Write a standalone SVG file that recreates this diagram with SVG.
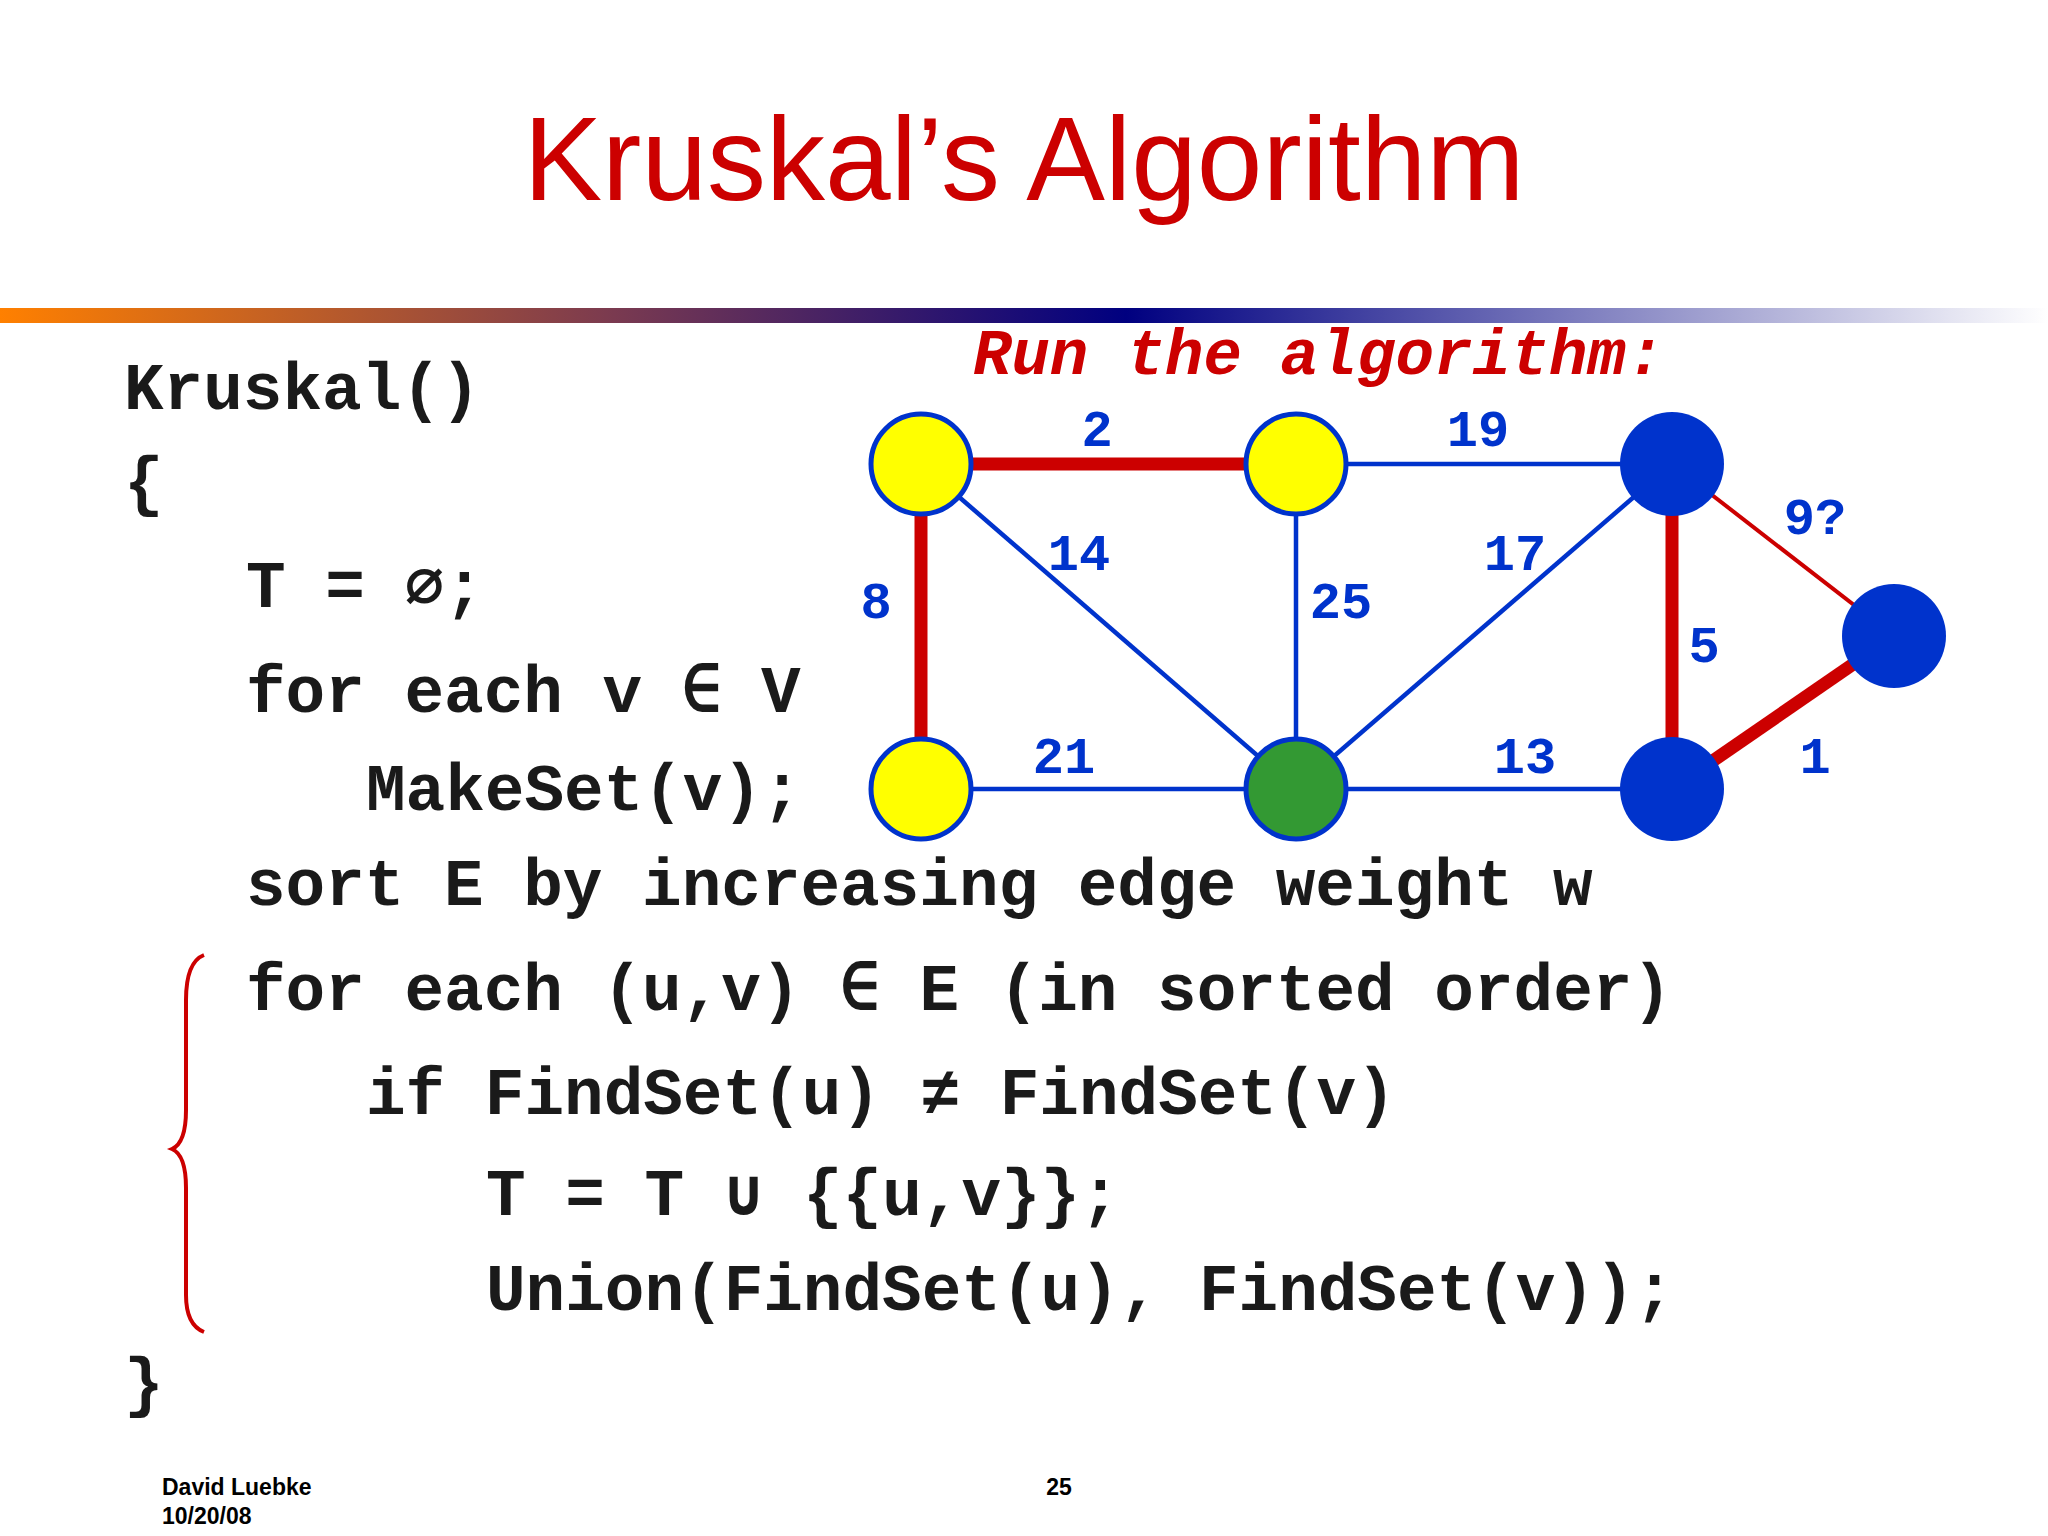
<svg xmlns="http://www.w3.org/2000/svg" width="2048" height="1536" viewBox="0 0 2048 1536">
<defs>
<linearGradient id="bar" x1="0" x2="1" y1="0" y2="0">
<stop offset="0" stop-color="#ff8000"/>
<stop offset="0.3" stop-color="#7a3a50"/>
<stop offset="0.55" stop-color="#000080"/>
<stop offset="1" stop-color="#ffffff"/>
</linearGradient>
<style>
.code{font-family:"Liberation Mono",monospace;font-weight:bold;font-size:66px;fill:#1a1a1a}
.lbl{font-family:"Liberation Mono",monospace;font-weight:bold;font-size:52px;fill:#0033cc;text-anchor:middle}
.blue{stroke:#0033cc;stroke-width:4.5;fill:none}
.red{stroke:#cc0000;stroke-width:13;fill:none}
.redthin{stroke:#cc0000;stroke-width:4;fill:none}
.foot{font-family:"Liberation Sans",Arial,sans-serif;font-weight:bold;font-size:23px;fill:#000}
</style>
</defs>
<rect width="2048" height="1536" fill="#fff"/>
<text x="1024" y="200" text-anchor="middle" font-family="Liberation Sans,Arial,sans-serif" font-size="118" fill="#cc0000">Kruskal’s Algorithm</text>
<rect x="0" y="308" width="2048" height="15" fill="url(#bar)"/>
<g id="code">
<text class="code" x="124" y="409">Kruskal()</text>
<text class="code" x="124" y="503">{</text>
<text class="code" x="246" y="607">T = ∅;</text>
<text class="code" x="246" y="712">for each v ∈ V</text>
<text class="code" x="366" y="810">MakeSet(v);</text>
<text class="code" x="246" y="905">sort E by increasing edge weight w</text>
<text class="code" x="246" y="1010">for each (u,v) ∈ E (in sorted order)</text>
<text class="code" x="366" y="1114">if FindSet(u) ≠ FindSet(v)</text>
<text class="code" x="486" y="1215">T = T ∪ {{u,v}};</text>
<text class="code" x="486" y="1310">Union(FindSet(u), FindSet(v));</text>
<text class="code" x="124" y="1404">}</text>
</g>
<path id="brace" d="M204 955 Q186 962 186 1000 L186 1110 Q186 1143 172 1149 Q186 1155 186 1188 L186 1295 Q186 1325 204 1332" fill="none" stroke="#cc0000" stroke-width="4"/>
<text x="973" y="374" font-family="Liberation Mono,monospace" font-weight="bold" font-style="italic" font-size="64" fill="#cc0000">Run the algorithm:</text>
<g id="connectors">
<line class="red" x1="921" y1="464" x2="1296" y2="464"/>
<line class="blue" x1="1296" y1="464" x2="1672" y2="464"/>
<line class="red" x1="921" y1="464" x2="921" y2="789"/>
<line class="blue" x1="921" y1="464" x2="1296" y2="789"/>
<line class="blue" x1="1296" y1="464" x2="1296" y2="789"/>
<line class="blue" x1="1672" y1="464" x2="1296" y2="789"/>
<line class="blue" x1="921" y1="789" x2="1296" y2="789"/>
<line class="blue" x1="1296" y1="789" x2="1672" y2="789"/>
<line class="red" x1="1672" y1="464" x2="1672" y2="789"/>
<line class="redthin" x1="1672" y1="464" x2="1894" y2="636"/>
<line class="red" x1="1672" y1="789" x2="1894" y2="636"/>
</g>
<g id="n1"><circle cx="921" cy="464" r="50" fill="#ffff00" stroke="#0033cc" stroke-width="5"/></g>
<g id="n2"><circle cx="1296" cy="464" r="50" fill="#ffff00" stroke="#0033cc" stroke-width="5"/></g>
<g id="n3"><circle cx="1672" cy="464" r="52" fill="#0033cc"/></g>
<g id="n4"><circle cx="1894" cy="636" r="52" fill="#0033cc"/></g>
<g id="n5"><circle cx="921" cy="789" r="50" fill="#ffff00" stroke="#0033cc" stroke-width="5"/></g>
<g id="n6"><circle cx="1296" cy="789" r="50" fill="#339933" stroke="#0033cc" stroke-width="5"/></g>
<g id="n7"><circle cx="1672" cy="789" r="52" fill="#0033cc"/></g>
<g id="labels">
<text class="lbl" x="1097" y="446">2</text>
<text class="lbl" x="1478" y="446">19</text>
<text class="lbl" x="1079" y="570">14</text>
<text class="lbl" x="1515" y="570">17</text>
<text class="lbl" x="876" y="618">8</text>
<text class="lbl" x="1341" y="618">25</text>
<text class="lbl" x="1704" y="662">5</text>
<text class="lbl" x="1815" y="534">9?</text>
<text class="lbl" x="1064" y="773">21</text>
<text class="lbl" x="1525" y="773">13</text>
<text class="lbl" x="1815" y="773">1</text>
</g>
<text class="foot" x="162" y="1495">David Luebke</text>
<text class="foot" x="162" y="1524">10/20/08</text>
<text class="foot" x="1059" y="1495" text-anchor="middle">25</text>
</svg>
